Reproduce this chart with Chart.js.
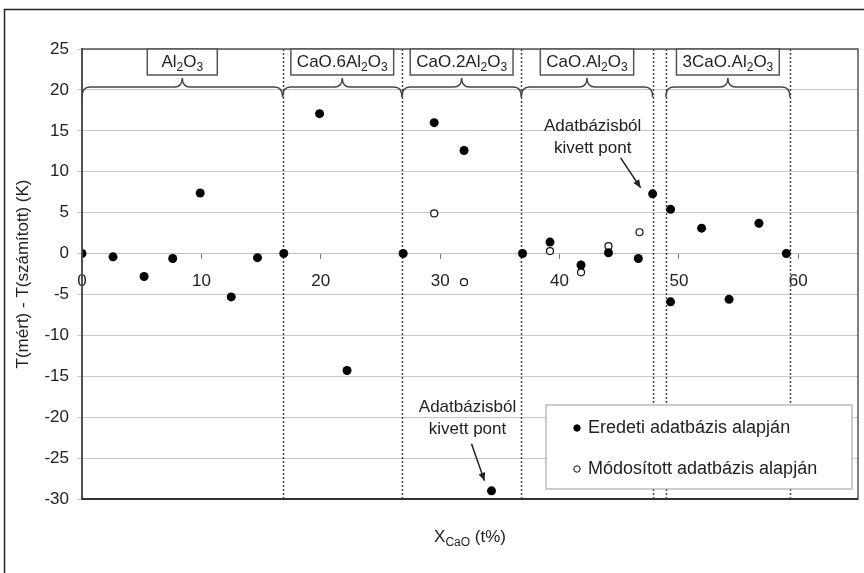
<!DOCTYPE html>
<html>
<head>
<meta charset="utf-8">
<script src="https://cdn.jsdelivr.net/npm/chart.js@4.4.1/dist/chart.umd.min.js"></script>
<style>
  html, body { margin: 0; padding: 0; background: #fff; }
</style>
</head>
<body>
<canvas id="myChart" width="864" height="573"></canvas>
<script>

// measured points (x = CaO t%, y = T(mért) - T(számított))
const eredetiX = [0, 2.6, 5.2, 7.6, 9.9, 12.5, 14.7, 16.9, 19.9, 22.2, 26.9, 29.5, 32.0, 34.3, 36.9, 39.2, 41.8, 44.1, 46.6, 47.8, 49.3, 49.3, 51.9, 54.2, 56.7, 59.0];
const eredetiY = [0, -0.4, -2.8, -0.6, 7.4, -5.3, -0.5, 0, 17.1, -14.3, 0, 16.0, 12.6, -29.0, 0, 1.4, -1.4, 0.1, -0.6, 7.3, 5.4, -5.9, 3.1, -5.6, 3.7, 0];
const modositottX = [29.5, 32.0, 39.2, 41.8, 44.1, 46.7];
const modositottY = [4.9, -3.5, 0.3, -2.3, 0.9, 2.6];

// phase fields along the x axis
const phaseBounds = [16.8, 26.8, 36.8, 47.8, 48.9, 59.3];
const phaseRanges = [[0, 16.8], [16.8, 26.8], [26.8, 36.8], [36.8, 47.8], [48.9, 59.3]];
const phaseNames = ['Al_2O_3', 'CaO.6Al_2O_3', 'CaO.2Al_2O_3', 'CaO.Al_2O_3', '3CaO.Al_2O_3'];

// points that were removed from the database (x, y of the marked point)
const removedPoints = [[47.8, 7.3], [34.3, -29.0]];

const FONT = '"Liberation Sans", Arial, sans-serif';
Chart.defaults.font.family = FONT;
Chart.defaults.color = '#222';

function richParts(str) {
  const parts = [];
  str.split(/(_\{[^}]*\}|_\w)/).forEach(s => {
    if (!s) return;
    if (s.startsWith('_{')) parts.push({ t: s.slice(2, -1), sub: true });
    else if (s[0] === '_') parts.push({ t: s.slice(1), sub: true });
    else parts.push({ t: s, sub: false });
  });
  return parts;
}

function drawRich(ctx, str, cx, cy, size) {
  const parts = richParts(str);
  const subSize = Math.round(size * 0.68);
  let w = 0;
  parts.forEach(p => {
    ctx.font = (p.sub ? subSize : size) + 'px ' + FONT;
    p.w = ctx.measureText(p.t).width;
    w += p.w;
  });
  let x = cx - w / 2;
  ctx.textAlign = 'left';
  ctx.textBaseline = 'middle';
  parts.forEach(p => {
    ctx.font = (p.sub ? subSize : size) + 'px ' + FONT;
    ctx.fillText(p.t, x, cy + (p.sub ? size * 0.32 : 0));
    x += p.w;
  });
  return w;
}

function brace(ctx, x1, x2, y) {
  const xm = (x1 + x2) / 2, r = 8;
  ctx.beginPath();
  ctx.moveTo(x1, y + 10);
  ctx.quadraticCurveTo(x1, y, x1 + r, y);
  ctx.lineTo(xm - r, y);
  ctx.quadraticCurveTo(xm, y, xm, y - 9);
  ctx.quadraticCurveTo(xm, y, xm + r, y);
  ctx.lineTo(x2 - r, y);
  ctx.quadraticCurveTo(x2, y, x2, y + 10);
  ctx.stroke();
}

function arrow(ctx, x1, y1, x2, y2) {
  ctx.beginPath();
  ctx.moveTo(x1, y1);
  ctx.lineTo(x2, y2);
  ctx.stroke();
  const a = Math.atan2(y2 - y1, x2 - x1), L = 8, W = 3.5;
  ctx.beginPath();
  ctx.moveTo(x2, y2);
  ctx.lineTo(x2 - L * Math.cos(a) + W * Math.sin(a), y2 - L * Math.sin(a) - W * Math.cos(a));
  ctx.lineTo(x2 - L * Math.cos(a) - W * Math.sin(a), y2 - L * Math.sin(a) + W * Math.cos(a));
  ctx.closePath();
  ctx.fill();
}

const phasePlugin = {
  id: 'phases',
  beforeDatasetsDraw(chart) {
    const { ctx, chartArea: area, scales: { x } } = chart;
    ctx.save();
    ctx.strokeStyle = '#444';
    ctx.lineWidth = 1.5;
    ctx.setLineDash([2, 2]);
    phaseBounds.forEach(v => {
      const px = Math.round(x.getPixelForValue(v)) + 0.5;
      ctx.beginPath();
      ctx.moveTo(px, area.top);
      ctx.lineTo(px, area.bottom);
      ctx.stroke();
    });
    ctx.restore();
  },
  afterDraw(chart) {
    const { ctx, chartArea: area, scales: { x, y } } = chart;
    ctx.save();

    // plot frame
    ctx.strokeStyle = '#555';
    ctx.lineWidth = 1.5;
    ctx.strokeRect(area.left, area.top, area.right - area.left, area.bottom - area.top);
    ctx.strokeStyle = '#333';
    ctx.lineWidth = 2;
    ctx.beginPath();
    ctx.moveTo(area.left, area.bottom);
    ctx.lineTo(area.right, area.bottom);
    ctx.stroke();

    // outer frame
    ctx.strokeStyle = '#222';
    ctx.lineWidth = 1.5;
    ctx.strokeRect(4.5, 9.5, 900, 700);

    // phase labels and braces
    ctx.fillStyle = '#222';
    phaseRanges.forEach((r, i) => {
      const x1 = x.getPixelForValue(r[0]);
      const x2 = x.getPixelForValue(r[1]);
      const xm = (x1 + x2) / 2;
      ctx.strokeStyle = '#444';
      ctx.lineWidth = 1.5;
      brace(ctx, x1, x2, area.top + 38);
      ctx.font = '17px ' + FONT;
      const parts = richParts(phaseNames[i]);
      let tw = 0;
      parts.forEach(p => {
        ctx.font = (p.sub ? 12 : 17) + 'px ' + FONT;
        tw += ctx.measureText(p.t).width;
      });
      const bw = Math.max(tw + 12, 70);
      ctx.fillStyle = '#fff';
      ctx.fillRect(xm - bw / 2, area.top, bw, 26);
      ctx.strokeStyle = '#555';
      ctx.strokeRect(xm - bw / 2, area.top, bw, 26);
      ctx.fillStyle = '#222';
      drawRich(ctx, phaseNames[i], xm, area.top + 13, 17);
    });

    // annotations for removed points
    ctx.strokeStyle = '#222';
    ctx.fillStyle = '#222';
    ctx.lineWidth = 1.5;
    const offs = [
      { a: [-32, -36, -12, -6], t: [-60, -68] },
      { a: [-20, -47, -7, -10], t: [-24, -84] }
    ];
    removedPoints.forEach((pt, i) => {
      const px = x.getPixelForValue(pt[0]);
      const py = y.getPixelForValue(pt[1]);
      const o = offs[i];
      arrow(ctx, px + o.a[0], py + o.a[1], px + o.a[2], py + o.a[3]);
      ctx.font = '17px ' + FONT;
      ctx.textAlign = 'center';
      ctx.textBaseline = 'middle';
      ctx.fillText('Adatbázisból', px + o.t[0], py + o.t[1]);
      ctx.fillText('kivett pont', px + o.t[0], py + o.t[1] + 22);
    });

    // legend
    const lw = 306, lh = 84;
    const lx = area.right - 6 - lw, ly = area.bottom - 10 - lh;
    ctx.fillStyle = '#fff';
    ctx.fillRect(lx, ly, lw, lh);
    ctx.strokeStyle = '#aaa';
    ctx.lineWidth = 1.2;
    ctx.strokeRect(lx, ly, lw, lh);
    chart.data.datasets.forEach((ds, i) => {
      const cy = ly + 23 + i * 41;
      ctx.beginPath();
      ctx.arc(lx + 31, cy, 3.2, 0, Math.PI * 2);
      ctx.fillStyle = ds.backgroundColor;
      ctx.fill();
      ctx.strokeStyle = ds.borderColor;
      ctx.lineWidth = 1;
      ctx.stroke();
      ctx.fillStyle = '#222';
      ctx.font = '18px ' + FONT;
      ctx.textAlign = 'left';
      ctx.textBaseline = 'middle';
      ctx.fillText(ds.label, lx + 42, cy);
    });

    // x axis title
    ctx.fillStyle = '#222';
    drawRich(ctx, 'X_{CaO} (t%)', 470, 537, 17);

    ctx.restore();
  }
};

const ctx = document.getElementById('myChart');

new Chart(ctx, {
  type: 'scatter',
  data: {
    datasets: [
      {
        label: 'Eredeti adatbázis alapján',
        data: eredetiX.map((v, i) => ({ x: v, y: eredetiY[i] })),
        pointRadius: 4.5,
        backgroundColor: '#000',
        borderColor: '#000',
        borderWidth: 0
      },
      {
        label: 'Módosított adatbázis alapján',
        data: modositottX.map((v, i) => ({ x: v, y: modositottY[i] })),
        pointRadius: 3.5,
        backgroundColor: '#fff',
        borderColor: '#111',
        borderWidth: 1.2
      }
    ]
  },
  options: {
    responsive: false,
    animation: false,
    layout: { padding: { left: 0, top: 49, right: 6, bottom: 74 } },
    plugins: {
      legend: { display: false },
      tooltip: { enabled: false }
    },
    scales: {
      x: {
        type: 'linear',
        position: { y: 0 },
        min: 0,
        max: 65,
        ticks: { stepSize: 10, includeBounds: false, padding: 13, maxRotation: 0, font: { size: 17 } },
        grid: { drawOnChartArea: false, tickLength: 5, color: '#777' },
        border: { color: '#bdbdbd', width: 1 }
      },
      y: {
        min: -30,
        max: 25,
        ticks: { stepSize: 5, padding: 8, font: { size: 17 } },
        grid: { color: '#c8c8c8', tickLength: 5 },
        border: { color: '#444', width: 2 },
        title: {
          display: true,
          text: 'T(mért) - T(számított) (K)',
          font: { size: 17 },
          padding: { top: 13, bottom: 0 }
        },
        afterFit(scale) { scale.width = 82; }
      }
    }
  },
  plugins: [phasePlugin]
});

</script>
</body>
</html>
